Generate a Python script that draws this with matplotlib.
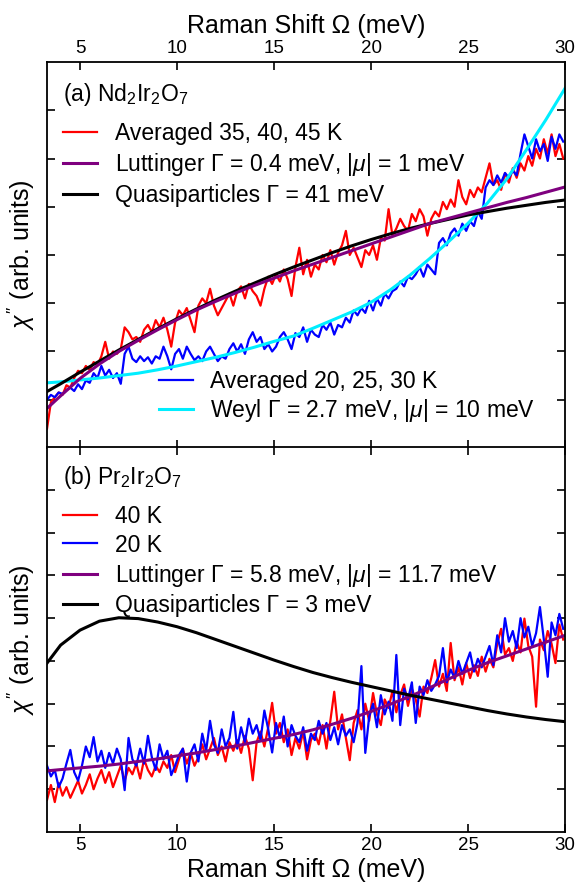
import numpy as np
import matplotlib
matplotlib.use("Agg")
import matplotlib.pyplot as plt
from matplotlib.lines import Line2D

plt.rcParams['font.family'] = ['Liberation Sans', 'DejaVu Sans']
plt.rcParams['mathtext.fontset'] = 'custom'
plt.rcParams['mathtext.rm'] = 'Liberation Sans'
plt.rcParams['mathtext.it'] = 'Liberation Sans:italic'
plt.rcParams['mathtext.bf'] = 'Liberation Sans:bold'

# ---------------- data ----------------
# noisy spectra, sampled every 0.2 meV from 3.3 to 29.9 meV
omega = np.linspace(3.3, 29.9, 134)

nd_hot = [0.40, 0.95, 1.05, 1.15, 1.10, 1.30, 1.25, 1.45, 1.60, 1.55,
          1.70, 1.62, 1.78, 1.72, 1.90, 2.20, 1.85, 2.00, 1.95, 2.05,
          2.50, 2.40, 2.25, 2.30, 2.20, 2.45, 2.55, 2.40, 2.65, 2.50,
          2.70, 2.45, 2.10, 2.60, 2.85, 2.75, 2.90, 2.65, 2.40, 2.95,
          3.10, 3.00, 3.30, 2.95, 2.75, 2.90, 3.05, 3.20, 2.95, 3.25,
          3.35, 3.10, 3.40, 3.25, 3.15, 2.95, 3.30, 3.55, 3.40, 3.60,
          3.45, 3.70, 3.50, 3.15, 3.75, 4.15, 3.60, 3.90, 3.55, 3.80,
          3.70, 4.00, 3.85, 4.10, 3.80, 4.05, 4.20, 4.50, 4.00, 4.15,
          3.95, 3.75, 4.10, 4.00, 4.20, 3.90, 4.35, 4.30, 4.95, 4.40,
          4.55, 4.75, 4.60, 4.50, 4.85, 4.70, 4.95, 4.80, 4.40, 4.75,
          4.90, 4.80, 5.10, 4.95, 5.15, 5.00, 5.55, 5.20, 5.05, 5.35,
          5.20, 5.40, 5.30, 5.60, 5.90, 5.45, 5.55, 5.35, 5.70, 5.50,
          5.80, 5.60, 5.90, 5.75, 6.05, 5.85, 6.20, 6.00, 6.40, 6.10,
          6.50, 6.05, 6.30, 6.00]

nd_cold = [1.00, 1.10, 1.05, 1.15, 1.12, 1.20, 1.25, 1.18, 1.32, 1.22,
           1.40, 1.35, 1.55, 1.45, 1.70, 1.50, 1.62, 1.45, 1.55, 1.33,
           1.95, 2.10, 1.85, 1.78, 1.90, 1.80, 1.88, 1.75, 1.90, 1.85,
           2.10, 1.90, 1.63, 1.95, 2.05, 1.85, 2.10, 1.95, 1.82, 1.90,
           1.80, 2.00, 2.10, 1.95, 1.80, 1.90, 1.85, 2.05, 2.17, 2.00,
           2.15, 1.95, 2.25, 2.40, 2.20, 2.30, 2.05, 2.15, 2.00, 2.10,
           2.30, 2.40, 2.25, 2.05, 2.38, 2.30, 2.50, 2.20, 2.45, 2.35,
           2.30, 2.55, 2.45, 2.60, 2.35, 2.55, 2.50, 2.70, 2.60, 2.85,
           2.75, 2.90, 2.80, 3.05, 2.85, 3.10, 2.95, 3.20, 3.10, 3.25,
           3.30, 3.45, 3.35, 3.55, 3.50, 3.60, 3.75, 3.55, 3.80, 3.70,
           3.60, 4.25, 4.35, 4.20, 4.45, 4.55, 4.40, 4.65, 4.50, 4.70,
           4.60, 4.90, 4.75, 5.40, 5.55, 5.45, 5.65, 5.50, 5.70, 5.60,
           5.75, 5.65, 6.10, 6.50, 6.25, 6.00, 6.40, 6.15, 6.30, 5.95,
           6.45, 6.20, 6.50, 6.35]

pr_40K = [0.75, 1.10, 0.70, 1.15, 0.85, 1.05, 0.80, 1.00, 1.20, 0.90,
          1.10, 1.35, 1.00, 1.25, 1.45, 1.15, 1.40, 1.05, 1.30, 1.55,
          1.20, 1.50, 1.35, 1.60, 1.25, 1.70, 1.45, 1.30, 1.55, 1.40,
          1.65, 1.50, 1.80, 1.40, 1.70, 1.95, 1.60, 1.85, 1.55, 1.75,
          2.05, 1.70, 1.95, 2.20, 1.80, 2.00, 1.65, 2.10, 1.90, 2.15,
          1.85, 2.25, 1.95, 1.21, 2.10, 2.35, 2.00, 2.45, 3.02, 2.30,
          2.55, 2.10, 2.40, 1.80, 2.20, 1.95, 2.35, 1.70, 2.15, 2.30,
          2.05, 2.50, 1.95, 2.60, 3.28, 2.40, 2.75, 2.20, 1.68, 2.55,
          2.85, 2.40, 3.00, 2.60, 3.25, 2.75, 2.50, 3.10, 2.90, 3.30,
          2.80, 3.20, 3.45, 2.95, 3.35, 3.10, 2.70, 3.40, 3.25, 3.60,
          4.02, 3.40, 3.70, 3.30, 4.42, 3.55, 3.85, 3.45, 3.95, 3.60,
          3.90, 3.65, 4.10, 3.75, 4.05, 3.85, 4.40, 4.75, 4.15, 4.30,
          4.00, 4.45, 4.20, 4.99, 4.35, 4.10, 2.93, 4.50, 4.25, 4.70,
          4.40, 3.95, 4.85, 4.50]

pr_20K = [1.55, 1.30, 1.45, 1.05, 1.25, 1.60, 1.92, 1.40, 1.20, 1.55,
          2.00, 1.75, 2.22, 1.65, 1.90, 1.50, 1.85, 1.60, 1.95, 1.70,
          0.98, 2.20, 1.70, 1.55, 1.95, 1.60, 2.25, 1.75, 1.45, 2.05,
          1.70, 1.90, 1.33, 1.55, 1.80, 1.95, 1.18, 1.85, 2.05, 1.65,
          2.30, 1.90, 2.60, 2.05, 1.85, 2.40, 2.00, 2.20, 2.81, 1.95,
          2.45, 2.10, 2.65, 2.30, 2.50, 2.15, 2.84, 2.40, 1.86, 2.55,
          2.20, 2.70, 2.00, 2.50, 2.25, 2.10, 2.45, 1.90, 2.30, 2.15,
          2.60, 2.30, 2.55, 2.15, 2.45, 2.05, 2.50, 2.25, 2.40, 2.10,
          2.55, 3.88, 1.85, 2.70, 3.00, 2.45, 3.20, 2.75, 3.05, 2.60,
          4.14, 2.50, 3.35, 3.10, 3.50, 2.55, 3.40, 3.20, 3.55, 3.30,
          3.45, 3.65, 4.30, 3.50, 3.80, 3.60, 4.00, 3.70, 3.95, 4.20,
          3.75, 4.05, 3.85, 4.10, 4.35, 3.90, 4.60, 4.20, 5.00, 4.45,
          4.70, 4.30, 5.00, 4.55, 4.80, 4.35, 4.65, 5.26, 4.50, 3.63,
          4.90, 4.60, 5.10, 4.75]

# model curves, 1 meV grid
omega_fit = [3.3, 4, 5, 6, 7, 8, 9, 10, 11, 12, 13, 14, 15, 16, 17, 18,
             19, 20, 21, 22, 23, 24, 25, 26, 27, 28, 29, 30]

nd_qp = [1.17, 1.33, 1.57, 1.80, 2.03, 2.25, 2.47, 2.68, 2.88, 3.07,
         3.25, 3.42, 3.59, 3.75, 3.90, 4.05, 4.19, 4.32, 4.44, 4.55,
         4.65, 4.74, 4.83, 4.90, 4.97, 5.03, 5.09, 5.14]
nd_lutt = [0.82, 1.08, 1.44, 1.74, 2.00, 2.23, 2.45, 2.66, 2.86, 3.04,
           3.21, 3.37, 3.52, 3.67, 3.81, 3.95, 4.09, 4.23, 4.37, 4.51,
           4.65, 4.76, 4.87, 4.98, 5.09, 5.19, 5.30, 5.41]
nd_weyl = [1.35, 1.37, 1.41, 1.45, 1.50, 1.55, 1.62, 1.70, 1.79, 1.88,
           1.98, 2.09, 2.21, 2.32, 2.48, 2.65, 2.82, 3.02, 3.28, 3.58,
           3.92, 4.28, 4.66, 5.08, 5.58, 6.18, 6.80, 7.46]

pr_qp = [3.95, 4.37, 4.72, 4.93, 5.01, 4.99, 4.91, 4.80, 4.66, 4.50,
         4.34, 4.18, 4.02, 3.87, 3.73, 3.61, 3.50, 3.40, 3.30, 3.20,
         3.11, 3.02, 2.93, 2.84, 2.76, 2.69, 2.63, 2.58]
pr_lutt = [1.43, 1.46, 1.50, 1.54, 1.59, 1.65, 1.71, 1.78, 1.85, 1.93,
           2.01, 2.10, 2.19, 2.28, 2.39, 2.52, 2.66, 2.82, 2.99, 3.17,
           3.37, 3.58, 3.78, 3.96, 4.12, 4.28, 4.44, 4.60]

xticks = [5, 10, 15, 20, 25, 30]

RED = '#ff0000'
BLUE = '#0000ff'
PURPLE = '#7f007f'
CYAN = '#00eeff'

fig = plt.figure(figsize=(5.77, 8.86), dpi=100)
ax1 = fig.add_axes([0.0815, 0.4944, 0.898, 0.4356])
ax2 = fig.add_axes([0.0815, 0.0609, 0.898, 0.4345])

dw = 1.6   # data line width
fw = 2.2   # fit line width
fs = 16.5  # legend / panel label size

# ---- (a) Nd2Ir2O7
ax1.plot(omega, nd_hot, color=RED, lw=dw)
ax1.plot(omega, nd_cold, color=BLUE, lw=dw)
ax1.plot(omega_fit, nd_weyl, color=CYAN, lw=fw)
ax1.plot(omega_fit, nd_qp, color='black', lw=fw)
ax1.plot(omega_fit, nd_lutt, color=PURPLE, lw=fw)
ax1.set_ylim(0, 8)
ax1.set_yticks(range(1, 8))

ax1.text(0.03, 0.915, r'(a) Nd$_2$Ir$_2$O$_7$', transform=ax1.transAxes,
         fontsize=fs, va='center', ha='left')

h1 = [Line2D([], [], color=RED, lw=dw),
      Line2D([], [], color=PURPLE, lw=fw),
      Line2D([], [], color='black', lw=fw)]
l1 = ['Averaged 35, 40, 45 K',
      r'Luttinger Γ = 0.4 meV, $|\mu|$ = 1 meV',
      'Quasiparticles Γ = 41 meV']
leg1 = ax1.legend(h1, l1, loc='upper left', bbox_to_anchor=(0.0, 0.885),
                  frameon=False, fontsize=fs, handlelength=1.5,
                  handletextpad=0.75, labelspacing=0.25, borderaxespad=0.3)
ax1.add_artist(leg1)

h2 = [Line2D([], [], color=BLUE, lw=dw),
      Line2D([], [], color=CYAN, lw=fw)]
l2 = ['Averaged 20, 25, 30 K',
      r'Weyl Γ = 2.7 meV, $|\mu|$ = 10 meV']
ax1.legend(h2, l2, loc='lower left', bbox_to_anchor=(0.185, 0.02),
           frameon=False, fontsize=fs, handlelength=1.5,
           handletextpad=0.75, labelspacing=0.2, borderaxespad=0.3)

# ---- (b) Pr2Ir2O7
ax2.plot(omega, pr_40K, color=RED, lw=dw)
ax2.plot(omega, pr_20K, color=BLUE, lw=dw)
ax2.plot(omega_fit, pr_lutt, color=PURPLE, lw=fw)
ax2.plot(omega_fit, pr_qp, color='black', lw=fw)
ax2.set_ylim(0, 9)
ax2.set_yticks(range(1, 9))

ax2.text(0.03, 0.92, r'(b) Pr$_2$Ir$_2$O$_7$', transform=ax2.transAxes,
         fontsize=fs, va='center', ha='left')

h3 = [Line2D([], [], color=RED, lw=dw),
      Line2D([], [], color=BLUE, lw=dw),
      Line2D([], [], color=PURPLE, lw=fw),
      Line2D([], [], color='black', lw=fw)]
l3 = ['40 K', '20 K',
      r'Luttinger Γ = 5.8 meV, $|\mu|$ = 11.7 meV',
      'Quasiparticles Γ = 3 meV']
ax2.legend(h3, l3, loc='upper left', bbox_to_anchor=(0.0, 0.89),
           frameon=False, fontsize=fs, handlelength=1.5,
           handletextpad=0.75, labelspacing=0.22, borderaxespad=0.3)

for ax in (ax1, ax2):
    ax.set_xlim(3.3, 30)
    ax.set_xticks(xticks)
    ax.tick_params(direction='in', length=6, width=1.2, top=True, right=True,
                   labelleft=False, labelsize=13.5)
    for s in ax.spines.values():
        s.set_linewidth(1.3)
    ax.set_ylabel(r"$\chi''$ (arb. units)", fontsize=18, labelpad=7)

ax1.tick_params(labeltop=True, labelbottom=False)
ax1.xaxis.set_label_position('top')
ax1.set_xlabel('Raman Shift Ω (meV)', fontsize=18, labelpad=5)
ax2.tick_params(labeltop=False, labelbottom=True)
ax2.set_xlabel('Raman Shift Ω (meV)', fontsize=18, labelpad=3)

fig.savefig('out.png', dpi=100)
